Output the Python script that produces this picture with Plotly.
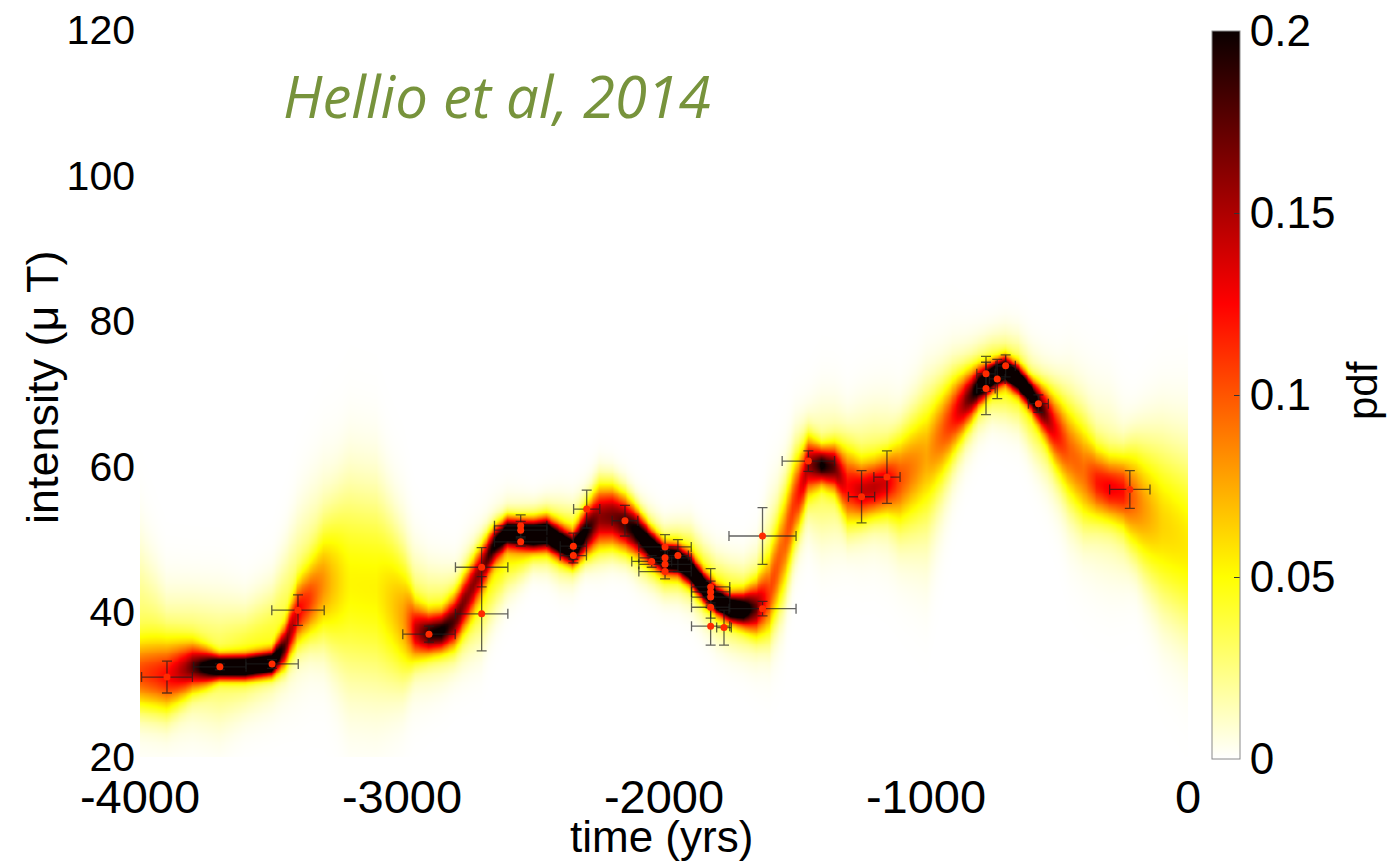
import numpy as np
import plotly.graph_objects as go

# ---------------- posterior pdf: ridge description ----------------
ctrl_t = [-4000, -3900, -3800, -3700, -3600, -3500, -3450, -3400, -3350, -3300, -3200, -3100,
          -3000, -2950, -2900, -2850, -2800, -2750, -2700, -2650, -2600, -2500, -2450, -2400,
          -2350, -2300, -2250, -2200, -2150, -2100, -2050, -2000, -1950, -1900, -1850, -1800,
          -1750, -1700, -1650, -1600, -1550, -1500, -1450, -1400, -1350, -1300, -1250, -1200,
          -1150, -1100, -1000, -900, -850, -800, -750, -700, -650, -600, -550, -500, -450,
          -400, -350, -300, -250, -200, -100, 0]
core_mean = [31.3, 31.0, 32.4, 32.4, 32.4, 32.9, 35.1, 39.8, 41.6, 43.4, 44.0, 43.5,
             39.0, 37.3, 37.0, 37.3, 38.8, 42.5, 46.0, 49.3, 51.0, 50.6, 50.8, 49.6,
             48.5, 50.8, 53.0, 53.3, 52.3, 51.0, 48.9, 47.4, 47.2, 45.7, 43.4, 41.6,
             40.5, 40.3, 40.5, 42.0, 48.5, 55.0, 60.3, 60.2, 59.9, 57.1, 56.5, 57.0,
             57.7, 58.4, 62.0, 66.9, 69.0, 71.0, 72.4, 73.3, 72.0, 69.9, 67.6, 64.8, 61.9,
             59.4, 57.8, 57.0, 56.7, 55.5, 51.8, 48.5]
core_sd = [3.2, 3.1, 2.0, 1.0, 1.0, 1.1, 1.8, 2.7, 3.4, 4.8, 9.0, 9.0,
           5.5, 2.5, 1.8, 1.7, 2.2, 2.4, 2.2, 1.6, 1.3, 1.2, 1.3, 1.4,
           1.3, 2.0, 2.8, 2.8, 2.4, 1.8, 1.4, 1.2, 1.2, 1.3, 1.2, 1.1,
           1.1, 1.4, 2.2, 3.6, 4.5, 3.8, 2.4, 1.6, 2.0, 3.3, 2.6, 2.5,
           2.7, 3.9, 5.2, 3.4, 2.4, 1.6, 1.1, 1.1, 1.2, 1.3, 2.1, 3.3, 4.2,
           4.4, 3.1, 2.8, 3.1, 5.0, 7.5, 8.0]
env_mean = [37.9, 33.5, 33.8, 33.1, 33.8, 36.0, 39.0, 42.5, 45.0, 46.6, 44.0, 43.0,
            41.0, 39.0, 38.2, 38.3, 38.9, 41.0, 42.5, 46.0, 48.5, 50.3, 50.5, 49.8,
            49.5, 51.6, 53.0, 52.8, 52.0, 50.0, 48.5, 47.0, 47.0, 46.4, 44.0, 42.0,
            41.0, 40.5, 41.0, 45.0, 49.0, 56.5, 59.0, 58.5, 58.8, 58.0, 58.4, 58.9,
            58.5, 57.0, 58.0, 66.4, 69.0, 71.0, 72.3, 72.3, 71.5, 68.5, 66.0, 63.5, 61.3,
            59.5, 58.0, 57.2, 55.5, 54.9, 52.6, 51.2]
env_sd = [7.3, 5.5, 5.2, 5.4, 4.4, 4.7, 5.5, 6.6, 7.0, 7.6, 9.5, 9.2,
          7.5, 5.5, 4.7, 4.3, 3.9, 4.3, 4.5, 4.0, 3.5, 2.4, 2.6, 3.0,
          3.0, 2.8, 3.3, 2.9, 2.9, 2.9, 2.8, 2.7, 2.8, 3.1, 3.2, 3.3,
          3.4, 3.5, 4.2, 6.0, 6.0, 5.0, 4.5, 5.7, 5.5, 5.0, 5.5, 5.6,
          5.9, 6.2, 8.0, 5.4, 4.2, 3.5, 3.2, 3.5, 3.6, 4.0, 4.5, 5.2, 6.6,
          6.8, 6.8, 6.8, 6.0, 5.5, 7.8, 9.1]

# ---------------- data points with error bars ----------------
pt_t = [-3897, -3695, -3496, -3397, -2897, -2696, -2696, -2547, -2547, -2547, -2346, -2346,
        -2295, -2149, -2047, -1996, -1996, -1996, -1996, -1947, -1822, -1822, -1822, -1822,
        -1822, -1771, -1624, -1624, -1449, -1246, -1149, -771, -771, -728, -696, -571, -222]
pt_I = [31.0, 32.4, 32.8, 40.2, 36.9, 46.1, 39.7, 51.8, 51.2, 49.6, 49.0, 47.7,
        54.1, 52.5, 46.9, 48.9, 47.4, 46.5, 45.5, 47.7, 43.4, 42.7, 42.0, 40.6,
        38.0, 37.8, 40.4, 50.4, 60.7, 55.8, 58.5, 72.7, 70.7, 72.0, 73.8, 68.6, 56.8]
pt_terr = [97, 100, 100, 100, 100, 100, 100, 100, 100, 100, 50, 50,
           50, 49, 76, 100, 100, 100, 100, 40, 73, 73, 73, 73,
           73, 28, 128, 128, 100, 50, 50, 35, 35, 30, 37, 38, 77]
pt_Ierr = [2.2, 0.4, 0.6, 2.1, 1.1, 2.7, 5.1, 1.5, 1.2, 0.6, 1.8, 1.0,
           2.6, 2.1, 0.8, 1.7, 1.0, 1.0, 1.0, 2.2, 2.5, 1.5, 1.5, 1.5,
           2.6, 2.4, 1.0, 3.9, 1.4, 3.6, 3.6, 2.4, 3.6, 2.7, 1.5, 1.2, 2.6]

x_ticks = [-4000, -3000, -2000, -1000, 0]
x_ticktext = ["-4000", "-3000", "-2000", "-1000", "0"]
y_ticks = [20, 40, 60, 80, 100, 120]
cb_ticks = [0, 0.05, 0.1, 0.15, 0.2]
cb_ticktext = ["0", "0.05", "0.1", "0.15", "0.2"]

# ---------------- build the density grid ----------------
tg = np.arange(-4000, 1, 10.0)
ig = np.arange(20, 120.001, 0.25)
m1 = np.interp(tg, ctrl_t, core_mean)
s1 = np.interp(tg, ctrl_t, core_sd)
m2 = np.interp(tg, ctrl_t, env_mean)
s2 = np.interp(tg, ctrl_t, env_sd)
Y = ig[:, None]


def gauss(y, m, s):
    return np.exp(-0.5 * ((y - m) / s) ** 2) / (s * np.sqrt(2 * np.pi))


z = 0.7 * gauss(Y, m1, s1) + 0.5 * gauss(Y, m2, s2)

FONT = "Liberation Sans, Arial, sans-serif"
hot_r = [[0.0, "#ffffff"], [0.25, "#ffff00"], [0.625, "#ff0000"], [1.0, "#0a0000"]]

# plot area in pixels: x 140..1188, y 30..757
PL, PR, PT, PB = 140, 1188, 30, 757
PW, PH = PR - PL, PB - PT


def px(xp):
    return (xp - PL) / PW


def py(yp):
    return 1 - (yp - PT) / PH


fig = go.Figure()
fig.add_trace(go.Heatmap(
    x=tg, y=ig, z=z, zmin=0, zmax=0.2, zsmooth="best", colorscale=hot_r,
    hoverinfo="skip",
    colorbar=dict(
        x=px(1212), xanchor="left", xref="paper",
        y=py(395), yanchor="middle", yref="paper",
        lenmode="pixels", len=728, thickness=28, thicknessmode="pixels",
        xpad=0, ypad=0, outlinewidth=1, outlinecolor="#8a8a8a",
        tickvals=cb_ticks, ticktext=cb_ticktext, ticks="inside", ticklen=6,
        tickcolor="#333333", tickfont=dict(family=FONT, size=44, color="black"),
    ),
))
fig.add_trace(go.Scatter(
    x=pt_t, y=pt_I, mode="markers",
    marker=dict(color="#ff2a00", size=7, line=dict(width=0)),
    error_x=dict(type="data", array=pt_terr, color="rgba(30,30,30,0.7)", thickness=1.3, width=5),
    error_y=dict(type="data", array=pt_Ierr, color="rgba(30,30,30,0.7)", thickness=1.3, width=5),
    hoverinfo="skip", showlegend=False,
))

fig.update_layout(
    width=1395, height=865,
    margin=dict(l=PL, r=1395 - PR, t=PT, b=865 - PB, autoexpand=False),
    paper_bgcolor="white", plot_bgcolor="white",
    font=dict(family=FONT, color="black"),
    showlegend=False,
    xaxis=dict(range=[-4000, 0], tickvals=x_ticks, ticktext=x_ticktext, showgrid=False,
               zeroline=False, showline=False, ticks="", ticklabelstandoff=8,
               automargin=False, tickfont=dict(family=FONT, size=47, color="black")),
    yaxis=dict(range=[20, 120], tickvals=y_ticks, showgrid=False, zeroline=False,
               showline=False, ticks="", ticklabelstandoff=4, automargin=False,
               tickfont=dict(family=FONT, size=41, color="black")),
    annotations=[
        dict(text="time (yrs)", xref="paper", yref="paper", x=px(661), y=py(836),
             xanchor="center", yanchor="middle", showarrow=False,
             font=dict(family=FONT, size=44, color="black")),
        dict(text="intensity (μ T)", xref="paper", yref="paper", x=px(42), y=py(388),
             xanchor="center", yanchor="middle", textangle=-90, showarrow=False,
             font=dict(family=FONT, size=45, color="black")),
        dict(text="pdf", xref="paper", yref="paper", x=px(1362), y=py(391),
             xanchor="center", yanchor="middle", textangle=-90,
             showarrow=False, font=dict(family=FONT, size=42, color="black")),
        dict(text="<i>Hellio et al, 2014</i>", xref="paper", yref="paper",
             x=px(497), y=py(95), xanchor="center", yanchor="middle",
             showarrow=False, font=dict(family="Open Sans, sans-serif", size=58, color="#77933c")),
    ],
)

fig.write_html("out.html", config={"displayModeBar": False},
               post_script="document.body.style.margin='0';document.body.style.overflow='hidden';")
